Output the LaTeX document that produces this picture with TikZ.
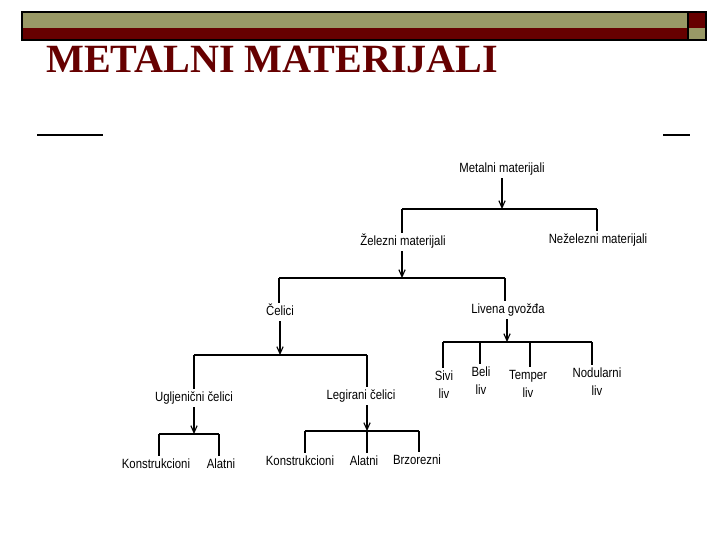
\documentclass[tikz,border=0pt]{standalone}
\usepackage{fontspec}
\usepackage{xcolor}
\usepackage{tikz}
\usetikzlibrary{arrows.meta, positioning, calc}
\setmainfont{Liberation Serif}
\newfontfamily\dijagramfont[FakeStretch=0.85]{Liberation Sans}
\definecolor{slide-olive}{HTML}{999966}
\definecolor{slide-red}{HTML}{660000}

\begin{document}
\begin{tikzpicture}[
		x=0.025cm, y=-0.025cm,
		bar/.style={
			draw=black, line width=1pt
		},
		item/.style={
			font=\dijagramfont\fontsize{9.5}{11}\selectfont,
			inner sep=2pt, text height=7pt, text depth=2pt
		},
		itemtwo/.style={
			font=\dijagramfont\fontsize{9.5}{12.8}\selectfont,
			inner sep=2pt, align=center
		},
		link/.style={line width=0.8pt},
		arr/.style={line width=0.8pt, -{Straight Barb[length=5pt,width=4.5pt]}}
		]
		
		\useasboundingbox (0,0) rectangle (720,540);
		
		% zaglavlje
		\fill[slide-olive] (22,12) rectangle (688,28);
		\fill[slide-red] (22,28) rectangle (688,40);
		\fill[slide-red] (688,12) rectangle (706,28);
		\fill[slide-olive] (688,28) rectangle (706,40);
		\draw[bar] (22,12) rectangle (706,40);
		\draw[bar] (688,12) -- (688,40);
		\node[anchor=base west, inner sep=0, text=slide-red,
		font=\bfseries\fontsize{28.5}{30}\selectfont] (naslov) at (46,72) {METALNI MATERIJALI};
		\draw[line width=1.5pt] (37,135) -- (103,135);
		\draw[line width=1.5pt] (663,135) -- (690,135);
		
		% cvorovi
		\node[item] (metal) at (502,169) {Metalni materijali};
		\node[item] (zel) at (403,242) {Železni materijali};
		\node[item] (nezel) at (598,240) {Neželezni materijali};
		\node[item] (celici) at (280,312) {Čelici};
		\node[item] (liv) at (508,310) {Livena gvožđa};
		\node[item] (uglj) at (194,398) {Ugljenični čelici};
		\node[item] (leg) at (361,396) {Legirani čelici};
		\node[item] (konst1) at (156,465) {Konstrukcioni};
		\node[item] (alat1) at (221,465) {Alatni};
		\node[item] (konst2) at (300,462) {Konstrukcioni};
		\node[item] (alat2) at (364,462) {Alatni};
		\node[item] (brzo) at (417,461) {Brzorezni};
		\node[itemtwo] (sivi) at (444,385) {Sivi\\liv};
		\node[itemtwo] (beli) at (481,381) {Beli\\liv};
		\node[itemtwo] (temper) at (528,384) {Temper\\liv};
		\node[itemtwo] (nodul) at (597,382) {Nodularni\\liv};
		
		% metalni materijali
		\coordinate (b1) at (502,209);
		\coordinate (b1l) at (402,209);
		\coordinate (b1r) at (597,209);
		\draw[arr] (metal.south -| b1) -- (b1);
		\draw[link] (b1l) -- (b1r);
		\draw[link] (b1l) -- (b1l |- zel.north);
		\draw[link] (b1r) -- (b1r |- nezel.north);
		
		% zelezni materijali
		\coordinate (b2) at (402,278);
		\coordinate (b2l) at (279,278);
		\coordinate (b2r) at (505,278);
		\draw[arr] (zel.south -| b2) -- (b2);
		\draw[link] (b2l) -- (b2r);
		\draw[link] (b2l) -- (b2l |- celici.north);
		\draw[link] (b2r) -- (b2r |- liv.north);
		
		% celici
		\coordinate (b3) at (280,355);
		\coordinate (b3l) at (194,355);
		\coordinate (b3r) at (367,355);
		\draw[arr] (celici.south -| b3) -- (b3);
		\draw[link] (b3l) -- (b3r);
		\draw[link] (b3l) -- (b3l |- uglj.north);
		\draw[link] (b3r) -- (b3r |- leg.north);
		
		% livena gvozdja
		\coordinate (b4) at (507,342);
		\coordinate (b4l) at (443,342);
		\coordinate (b4a) at (480,342);
		\coordinate (b4b) at (530,342);
		\coordinate (b4r) at (592,342);
		\draw[arr] (liv.south -| b4) -- (b4);
		\draw[link] (b4l) -- (b4r);
		\draw[link] (b4l) -- (b4l |- sivi.north);
		\draw[link] (b4a) -- (b4a |- beli.north);
		\draw[link] (b4b) -- (b4b |- temper.north);
		\draw[link] (b4r) -- (b4r |- nodul.north);
		
		% ugljenicni celici
		\coordinate (b5) at (194,434);
		\coordinate (b5l) at (159,434);
		\coordinate (b5r) at (219,434);
		\draw[arr] (uglj.south -| b5) -- (b5);
		\draw[link] (b5l) -- (b5r);
		\draw[link] (b5l) -- (b5l |- konst1.north);
		\draw[link] (b5r) -- (b5r |- alat1.north);
		
		% legirani celici
		\coordinate (b6) at (367,431);
		\coordinate (b6l) at (305,431);
		\coordinate (b6r) at (419,431);
		\draw[arr] (leg.south -| b6) -- (b6);
		\draw[link] (b6l) -- (b6r);
		\draw[link] (b6l) -- (b6l |- konst2.north);
		\draw[link] (b6) -- (b6 |- alat2.north);
		\draw[link] (b6r) -- (b6r |- brzo.north);
		
	\end{tikzpicture}
\end{document}
